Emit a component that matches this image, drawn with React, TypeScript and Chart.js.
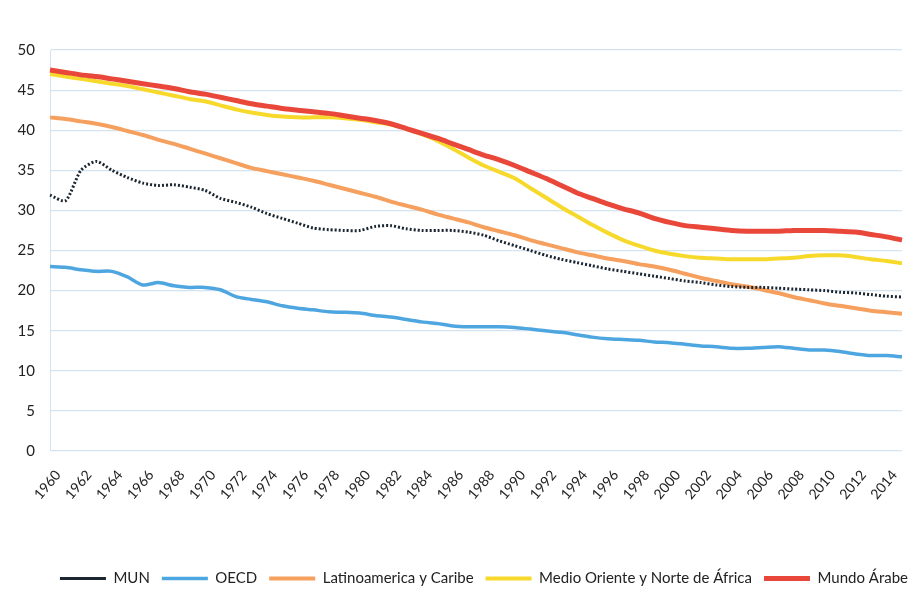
import React, { useEffect, useRef } from "react";
import { Chart, registerables } from "chart.js";

Chart.register(...registerables);

const years: string[] = [];
for (let y = 1960; y <= 2015; y++) years.push(String(y));

const mun = [
  31.9, 31.2, 35.0, 36.1, 35.0, 34.1, 33.4, 33.1, 33.2, 32.9,
  32.5, 31.5, 31.0, 30.4, 29.6, 29.0, 28.4, 27.8, 27.6, 27.5,
  27.5, 28.0, 28.1, 27.7, 27.5, 27.5, 27.5, 27.3, 26.9, 26.2,
  25.6, 25.0, 24.4, 23.9, 23.5, 23.1, 22.7, 22.4, 22.1, 21.8,
  21.5, 21.2, 21.0, 20.7, 20.5, 20.4, 20.4, 20.3, 20.2, 20.1,
  20.0, 19.8, 19.7, 19.5, 19.3, 19.2,
];

const oecd = [
  23.0, 22.9, 22.6, 22.4, 22.4, 21.7, 20.7, 21.0, 20.6, 20.4,
  20.4, 20.1, 19.25, 18.9, 18.6, 18.1, 17.8, 17.6, 17.35, 17.3,
  17.2, 16.9, 16.7, 16.4, 16.1, 15.9, 15.6, 15.5, 15.5, 15.5,
  15.4, 15.2, 15.0, 14.8, 14.5, 14.2, 14.0, 13.9, 13.8, 13.6,
  13.5, 13.3, 13.1, 13.0, 12.8, 12.8, 12.9, 13.0, 12.8, 12.6,
  12.6, 12.4, 12.1, 11.9, 11.9, 11.75,
];

const latam = [
  41.6, 41.4, 41.1, 40.8, 40.4, 39.9, 39.4, 38.8, 38.3, 37.7,
  37.1, 36.5, 35.9, 35.3, 34.9, 34.5, 34.1, 33.7, 33.2, 32.7,
  32.2, 31.7, 31.1, 30.6, 30.1, 29.5, 29.0, 28.5, 27.9, 27.4,
  26.9, 26.3, 25.8, 25.3, 24.8, 24.4, 24.0, 23.7, 23.3, 23.0,
  22.6, 22.1, 21.6, 21.2, 20.8, 20.5, 20.1, 19.7, 19.2, 18.8,
  18.4, 18.1, 17.8, 17.5, 17.3, 17.1,
];

const mena = [
  47.0, 46.7, 46.4, 46.1, 45.8, 45.5, 45.1, 44.7, 44.3, 43.9,
  43.6, 43.1, 42.6, 42.2, 41.9, 41.7, 41.6, 41.6, 41.6, 41.5,
  41.3, 41.0, 40.7, 40.2, 39.5, 38.7, 37.7, 36.6, 35.6, 34.8,
  34.0, 32.8, 31.6, 30.4, 29.3, 28.2, 27.2, 26.3, 25.6, 25.0,
  24.6, 24.3, 24.1, 24.0, 23.9, 23.9, 23.9, 24.0, 24.1, 24.3,
  24.4, 24.4, 24.2, 23.9, 23.7, 23.4,
];

const arab = [
  47.5, 47.2, 46.9, 46.7, 46.4, 46.1, 45.8, 45.5, 45.2, 44.8,
  44.5, 44.1, 43.7, 43.3, 43.0, 42.7, 42.5, 42.3, 42.1, 41.8,
  41.5, 41.2, 40.8, 40.2, 39.6, 39.0, 38.3, 37.6, 36.9, 36.3,
  35.6, 34.8, 34.0, 33.1, 32.2, 31.5, 30.8, 30.2, 29.7, 29.0,
  28.5, 28.1, 27.9, 27.7, 27.5, 27.4, 27.4, 27.4, 27.5, 27.5,
  27.5, 27.4, 27.3, 27.0, 26.7, 26.3,
];

const yTicks = [0, 5, 10, 15, 20, 25, 30, 35, 40, 45, 50];

const seriesNames = [
  "MUN",
  "OECD",
  "Latinoamerica y Caribe",
  "Medio Oriente y Norte de África",
  "Mundo Árabe",
];

const legendShift = {
  id: "legendShift",
  afterLayout(chart: any) {
    const lg = chart.legend;
    if (lg) {
      lg.left += 18;
      lg.right += 18;
    }
  },
};

export default function App() {
  const ref = useRef<HTMLCanvasElement | null>(null);

  useEffect(() => {
    if (!ref.current) return;
    const grid = "#d6e3ee";
    const chart = new Chart(ref.current, {
      type: "line",
      plugins: [legendShift],
      data: {
        labels: years,
        datasets: [
          {
            label: seriesNames[0],
            data: mun,
            borderColor: "#1b2630",
            backgroundColor: "#1b2630",
            borderWidth: 3,
            borderDash: [2, 2],
            pointRadius: 0,
            tension: 0.25,
            order: 0,
          },
          {
            label: seriesNames[1],
            data: oecd,
            borderColor: "#4ea6e0",
            backgroundColor: "#4ea6e0",
            borderWidth: 3.5,
            pointRadius: 0,
            tension: 0.25,
            order: 5,
          },
          {
            label: seriesNames[2],
            data: latam,
            borderColor: "#f5a05e",
            backgroundColor: "#f5a05e",
            borderWidth: 4,
            pointRadius: 0,
            tension: 0.25,
            order: 4,
          },
          {
            label: seriesNames[3],
            data: mena,
            borderColor: "#f7d92b",
            backgroundColor: "#f7d92b",
            borderWidth: 4,
            pointRadius: 0,
            tension: 0.25,
            order: 3,
          },
          {
            label: seriesNames[4],
            data: arab,
            borderColor: "#e9473a",
            backgroundColor: "#e9473a",
            borderWidth: 5,
            pointRadius: 0,
            tension: 0.25,
            order: 2,
          },
        ],
      },
      options: {
        responsive: false,
        animation: false,
        layout: { padding: { top: 50, right: 10, left: 0, bottom: -6 } },
        plugins: {
          tooltip: { enabled: false },
          legend: {
            position: "bottom",
            align: "end",
            labels: {
              usePointStyle: true,
              pointStyle: "line",
              pointStyleWidth: 46,
              padding: 12,
              color: "#222",
              font: { family: "Lato", size: 15 },
              sort: (a: any, b: any) => a.datasetIndex - b.datasetIndex,
            },
          },
        },
        scales: {
          x: {
            grid: { display: false },
            border: { display: false },
            afterFit: (scale: any) => {
              scale.height = 108;
              scale.paddingLeft = 0;
              scale.paddingRight = 0;
            },
            ticks: {
              autoSkip: false,
              maxRotation: 50,
              minRotation: 50,
              padding: 8,
              labelOffset: 8,
              color: "#222",
              font: { family: "Lato", size: 14 },
              callback: (_v: any, i: number) => (i % 2 === 0 ? years[i] : ""),
            },
          },
          y: {
            min: 0,
            max: 50,
            afterFit: (scale: any) => {
              scale.width = 50;
            },
            afterBuildTicks: (scale: any) => {
              scale.ticks = yTicks.map((v) => ({ value: v }));
            },
            grid: { color: grid, lineWidth: 1.2, drawTicks: false },
            border: { display: true, color: grid },
            ticks: {
              padding: 15,
              color: "#222",
              font: { family: "Lato", size: 15 },
            },
          },
        },
      },
    });
    return () => chart.destroy();
  }, []);

  return (
    <div style={{ position: "fixed", left: 0, top: 0, width: 912, height: 590, background: "#fff" }}>
      <canvas ref={ref} width={912} height={590} style={{ display: "block" }} />
    </div>
  );
}
